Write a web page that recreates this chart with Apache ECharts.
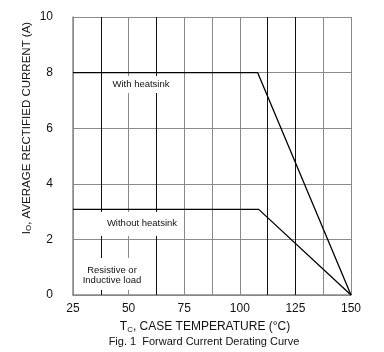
<!DOCTYPE html>
<html>
<head>
<meta charset="utf-8">
<script src="https://cdn.jsdelivr.net/npm/echarts@6/dist/echarts.min.js"></script>
<style>
  html, body { margin: 0; padding: 0; background: #fff; }
  #root { width: 384px; height: 352px; }
</style>
</head>
<body>
<div id="root"></div>
<script>
// data
var withHeatsink = [[25, 8], [108, 8], [150, 0]]
var withoutHeatsink = [[25, 3.08], [108.5, 3.08], [150, 0]]
var xTicks = [25, 50, 75, 100, 125, 150]
var yTicks = [0, 2, 4, 6, 8, 10]
// grid lines that came out darker in the scan
var darkX = [37.5, 62.5, 112.5, 125]

var font = 'Liberation Sans, Arial, sans-serif'
var chart = echarts.init(document.getElementById('root'))

var option = {
  animation: false,
  grid: { left: 73, right: 33, top: 17, bottom: 57, containLabel: false },
  xAxis: {
    type: 'value',
    min: 25,
    max: 150,
    interval: 12.5,
    axisLine: { lineStyle: { color: '#888', width: 1.5 } },
    axisTick: { show: false },
    axisLabel: {
      margin: 8,
      color: '#111',
      fontFamily: font,
      fontSize: 12,
      formatter: function (v) { return xTicks.indexOf(v) >= 0 ? String(v) : '' }
    },
    splitLine: { show: true, lineStyle: { color: '#8a8a8a', width: 1 } }
  },
  yAxis: {
    type: 'value',
    min: 0,
    max: 10,
    interval: 2,
    axisLine: { show: true, lineStyle: { color: '#888', width: 1.5 } },
    axisTick: { show: false },
    axisLabel: {
      margin: 20,
      color: '#111',
      fontFamily: font,
      fontSize: 12,
      formatter: function (v) { return yTicks.indexOf(v) >= 0 ? String(v) : '' }
    },
    splitLine: { show: true, lineStyle: { color: '#8a8a8a', width: 1 } }
  },
  series: [
    {
      name: 'With heatsink',
      type: 'line',
      data: withHeatsink,
      symbol: 'none',
      lineStyle: { color: '#000', width: 1.3 },
      z: 5,
      markLine: {
        silent: true,
        symbol: 'none',
        label: { show: false },
        lineStyle: { color: '#111', type: 'solid', width: 1 },
        data: darkX.map(function (v) { return { xAxis: v } })
      }
    },
    {
      name: 'Without heatsink',
      type: 'line',
      data: withoutHeatsink,
      symbol: 'none',
      lineStyle: { color: '#000', width: 1.3 },
      z: 5
    }
  ],
  graphic: [
    { type: 'rect', z: 10, shape: { x: 102, y: 76, width: 78, height: 17 }, style: { fill: '#fff' } },
    { type: 'text', z: 11, x: 141, y: 84, style: { text: 'With heatsink', font: '9.5px ' + font, fill: '#111', textAlign: 'center', textVerticalAlign: 'middle' } },
    { type: 'rect', z: 10, shape: { x: 101, y: 212, width: 81, height: 24 }, style: { fill: '#fff' } },
    { type: 'text', z: 11, x: 142, y: 223, style: { text: 'Without heatsink', font: '9.5px ' + font, fill: '#111', textAlign: 'center', textVerticalAlign: 'middle' } },
    { type: 'rect', z: 10, shape: { x: 81, y: 258, width: 64, height: 32 }, style: { fill: '#fff' } },
    { type: 'text', z: 11, x: 112, y: 275, style: { text: 'Resistive or\nInductive load', font: '9.5px ' + font, fill: '#111', textAlign: 'center', textVerticalAlign: 'middle', lineHeight: 10 } },
    {
      type: 'text', z: 11, x: 27, y: 128, rotation: Math.PI / 2,
      style: {
        text: 'I{s|O}, AVERAGE RECTIFIED CURRENT (A)',
        font: '11.5px ' + font, fill: '#111', textAlign: 'center', textVerticalAlign: 'middle',
        rich: { s: { fontSize: 8, fontFamily: font, fill: '#111', verticalAlign: 'bottom', padding: [4, 0, 0, 0] } }
      }
    },
    {
      type: 'text', z: 11, x: 205, y: 327,
      style: {
        text: 'T{s|C}, CASE TEMPERATURE (°C)',
        font: '12px ' + font, fill: '#111', textAlign: 'center', textVerticalAlign: 'middle',
        rich: { s: { fontSize: 8, fontFamily: font, fill: '#111', verticalAlign: 'bottom', padding: [5, 0, 0, 0] } }
      }
    },
    { type: 'text', z: 11, x: 204, y: 342, style: { text: 'Fig. 1  Forward Current Derating Curve', font: '11px ' + font, fill: '#111', textAlign: 'center', textVerticalAlign: 'middle' } }
  ]
}

chart.setOption(option)
</script>
</body>
</html>
